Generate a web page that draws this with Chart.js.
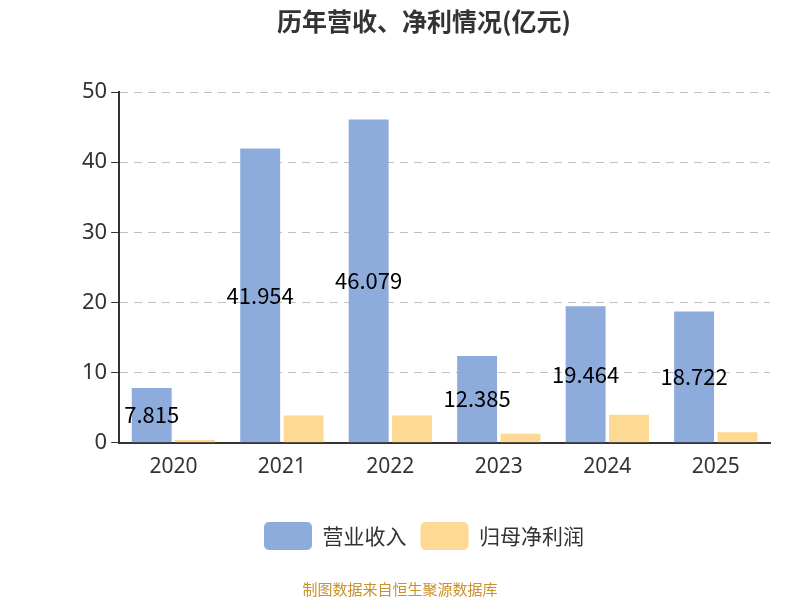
<!DOCTYPE html>
<html><head><meta charset="utf-8">
<script src="https://cdn.jsdelivr.net/npm/chart.js@4"></script>
<style>body{margin:0;background:#fff}#w{width:800px;height:600px;position:relative}</style>
</head><body><div id="w"><canvas id="c" width="800" height="600"></canvas></div>
<script>
const categories = ["2020","2021","2022","2023","2024","2025"];
const revenue = [7.815, 41.954, 46.079, 12.385, 19.464, 18.722];
const netProfit = [0.4, 3.9, 3.9, 1.3, 4.0, 1.5];
const yTicks = [0,10,20,30,40,50];

const labelPlugin = {
  id:'lbl',
  afterDatasetsDraw(chart){
    const ctx = chart.ctx;
    const meta = chart.getDatasetMeta(0);
    ctx.save();
    ctx.font = '22px "Noto Sans CJK SC", "Noto Sans", sans-serif';
    ctx.fillStyle = '#000';
    ctx.textAlign = 'center'; ctx.textBaseline = 'middle';
    meta.data.forEach((b,i)=>{
      ctx.fillText(revenue[i].toFixed(3), b.x, (b.y + b.base)/2);
    });
    ctx.restore();
  }
};
const footerPlugin = {
  id:'foot',
  afterDraw(chart){
    const ctx = chart.ctx;
    ctx.save();
    ctx.font = '15px "Noto Sans CJK SC", sans-serif';
    ctx.fillStyle = '#c8922e';
    ctx.textAlign = 'center'; ctx.textBaseline = 'middle';
    ctx.fillText('制图数据来自恒生聚源数据库', 400, 589);
    ctx.restore();
  }
};

new Chart(document.getElementById('c'), {
  type:'bar',
  data:{labels:categories, datasets:[
    {label:'营业收入', data:revenue, backgroundColor:'#8eacdb', barPercentage:0.92, categoryPercentage:0.8},
    {label:'归母净利润', data:netProfit, backgroundColor:'#fdd993', barPercentage:0.92, categoryPercentage:0.8}
  ]},
  options:{
    responsive:false, animation:false,
    layout:{padding:{left:78,right:30,top:0,bottom:40}},
    plugins:{
      title:{display:true, text:'历年营收、净利情况(亿元)', color:'#333',
        font:{size:25, weight:'bold', family:'"Noto Sans CJK SC", sans-serif'}, padding:{top:6,bottom:56}},
      legend:{position:'bottom', labels:{boxWidth:48, boxHeight:28, padding:14, color:'#333',
        font:{size:21, family:'"Noto Sans CJK SC", sans-serif'}, useBorderRadius:true, borderRadius:5}},
      tooltip:{enabled:false}
    },
    scales:{
      x:{grid:{display:false, drawTicks:true}, border:{color:'#333', width:2},
        afterFit(a){a.height += 24;},
        ticks:{color:'#333', font:{size:21, family:'"Noto Sans", sans-serif'}, padding:4}},
      y:{min:0, max:50, afterBuildTicks(a){a.ticks = yTicks.map(v=>({value:v}));},
        grid:{color:'#c0c0c0', drawTicks:true, tickLength:8, tickColor:'#333'},
        border:{color:'#333', width:2, dash:[8,6]},
        ticks:{color:'#333', font:{size:22, family:'"Noto Sans", sans-serif'}, padding:4}}
    }
  },
  plugins:[labelPlugin, footerPlugin]
});
</script></body></html>
